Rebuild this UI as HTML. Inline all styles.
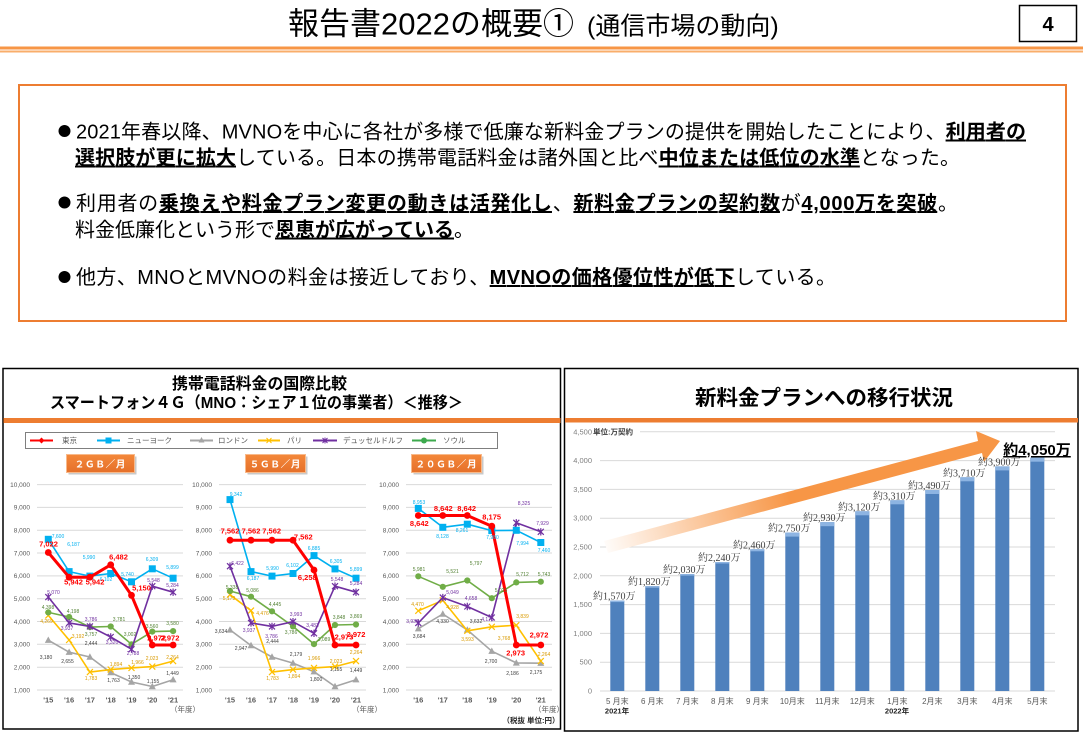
<!DOCTYPE html>
<html><head><meta charset="utf-8">
<style>
html,body{margin:0;padding:0;background:#fff;}
svg{display:block;}
text{font-family:"Liberation Sans","Noto Sans CJK JP",sans-serif;}
.bu{font-weight:bold;text-decoration:underline;}
.yl{font-size:6.5px;fill:#595959;text-anchor:end;}
.xl{font-size:7.5px;fill:#595959;text-anchor:middle;font-weight:bold;}
.sl{font-size:5px;text-anchor:middle;}
.tk{font-size:7.5px;font-weight:bold;fill:#FF0000;text-anchor:middle;}
.lg{font-size:7.5px;fill:#595959;}
.bt{font-size:9.5px;fill:#fff;font-weight:bold;text-anchor:middle;letter-spacing:0.8px;}
.ry{font-size:7.5px;fill:#7F7F7F;text-anchor:end;}
.bl{font-family:"Liberation Serif","Noto Serif CJK SC",serif;font-size:10px;fill:#404040;text-anchor:middle;}
.rx{font-size:8px;fill:#595959;text-anchor:middle;}
</style></head>
<body>
<svg width="1083" height="750" viewBox="0 0 1083 750" xmlns="http://www.w3.org/2000/svg">
<defs>
<marker id="mR" markerWidth="8" markerHeight="8" refX="4" refY="4" markerUnits="userSpaceOnUse"><circle cx="4" cy="4" r="3.4" fill="#FF0000"/></marker>
<marker id="mB" markerWidth="8" markerHeight="8" refX="4" refY="4" markerUnits="userSpaceOnUse"><rect x="0.5" y="0.5" width="7" height="7" fill="#00B0F0"/></marker>
<marker id="mG" markerWidth="8" markerHeight="8" refX="4" refY="4.5" markerUnits="userSpaceOnUse"><path d="M4 0.8L7.5 7.2L0.5 7.2Z" fill="#A5A5A5"/></marker>
<marker id="mY" markerWidth="8" markerHeight="8" refX="4" refY="4" markerUnits="userSpaceOnUse"><path d="M1 1L7 7M7 1L1 7" stroke="#FFC000" stroke-width="1.2"/></marker>
<marker id="mP" markerWidth="8" markerHeight="8" refX="4" refY="4" markerUnits="userSpaceOnUse"><path d="M1 1L7 7M7 1L1 7M4 0.3V7.7" stroke="#7030A0" stroke-width="1.2"/></marker>
<marker id="mS" markerWidth="8" markerHeight="8" refX="4" refY="4" markerUnits="userSpaceOnUse"><circle cx="4" cy="4" r="3.1" fill="#70AD47"/></marker>
<linearGradient id="ag" gradientUnits="userSpaceOnUse" x1="600" y1="550" x2="790" y2="500">
<stop offset="0" stop-color="#FFFFFF"/><stop offset="1" stop-color="#F79646"/></linearGradient>
<linearGradient id="btn" x1="0" y1="0" x2="0" y2="1"><stop offset="0" stop-color="#F4883A"/><stop offset="1" stop-color="#E5702A"/></linearGradient>
</defs>

<!-- Header -->
<text x="288" y="34.5" font-size="31" fill="#000">報告書2022の概要①</text>
<text x="587" y="34.5" font-size="25" fill="#000">(通信市場の動向)</text>
<rect x="1019.5" y="5.5" width="57" height="36" fill="#fff" stroke="#000" stroke-width="1.5"/>
<text x="1048" y="31" font-size="20" font-weight="bold" text-anchor="middle">4</text>
<rect x="0" y="46.5" width="1083" height="3" fill="#F79646"/>
<rect x="0" y="50.5" width="1083" height="2" fill="#F9AE6B"/>

<!-- Summary box -->
<rect x="19" y="85" width="1047" height="236" fill="#fff" stroke="#ED7D31" stroke-width="2"/>
<circle cx="64.5" cy="131" r="6" fill="#000"/>
<circle cx="64.5" cy="202.5" r="6" fill="#000"/>
<circle cx="64.5" cy="277" r="6" fill="#000"/>
<g font-size="20" fill="#000">
<text x="76" y="138.5" textLength="950" lengthAdjust="spacing">2021年春以降、MVNOを中心に各社が多様で低廉な新料金プランの提供を開始したことにより、<tspan class="bu">利用者の</tspan></text>
<text x="75" y="164.5" textLength="885" lengthAdjust="spacing"><tspan class="bu">選択肢が更に拡大</tspan>している。日本の携帯電話料金は諸外国と比べ<tspan class="bu">中位または低位の水準</tspan>となった。</text>
<text x="76" y="210" textLength="882" lengthAdjust="spacing">利用者の<tspan class="bu">乗換えや料金プラン変更の動きは活発化し</tspan>、<tspan class="bu">新料金プランの契約数</tspan>が<tspan class="bu">4,000万を突破</tspan>。</text>
<text x="75" y="236.5">料金低廉化という形で<tspan class="bu">恩恵が広がっている</tspan>。</text>
<text x="76" y="284" textLength="760" lengthAdjust="spacing">他方、MNOとMVNOの料金は接近しており、<tspan class="bu">MVNOの価格優位性が低下</tspan>している。</text>
</g>

<!-- Left chart box -->
<rect x="3" y="368.5" width="557.5" height="360.5" fill="#fff" stroke="#000" stroke-width="1.5"/>
<text x="259.5" y="389" font-size="16" font-weight="bold" text-anchor="middle" textLength="175" lengthAdjust="spacingAndGlyphs">携帯電話料金の国際比較</text>
<text x="256.5" y="408" font-size="16" font-weight="bold" text-anchor="middle" textLength="413" lengthAdjust="spacingAndGlyphs">スマートフォン４Ｇ（MNO：シェア１位の事業者）＜推移＞</text>
<rect x="3.5" y="418" width="557" height="5" fill="#ED7D31"/>

<!-- legend -->
<rect x="25.5" y="432.5" width="472" height="16" fill="#fff" stroke="#7F7F7F" stroke-width="1"/>
<line x1="30" y1="440.5" x2="53" y2="440.5" stroke="#FF0000" stroke-width="2"/><path d="M41.5 437.5L44.5 440.5L41.5 443.5L38.5 440.5Z" fill="#FF0000"/>
<text class="lg" x="62" y="443.2">東京</text>
<line x1="97" y1="440.5" x2="120" y2="440.5" stroke="#00B0F0" stroke-width="2"/><rect x="105.5" y="437.5" width="6" height="6" fill="#00B0F0"/>
<text class="lg" x="127" y="443.2">ニューヨーク</text>
<line x1="190" y1="440.5" x2="213" y2="440.5" stroke="#A5A5A5" stroke-width="2"/><path d="M201.5 437L204.5 442.5L198.5 442.5Z" fill="#A5A5A5"/>
<text class="lg" x="218" y="443.2">ロンドン</text>
<line x1="258" y1="440.5" x2="280" y2="440.5" stroke="#FFC000" stroke-width="2"/><path d="M266.5 438L271.5 443M271.5 438L266.5 443" stroke="#FFC000" stroke-width="1"/>
<text class="lg" x="287" y="443.2">パリ</text>
<line x1="313" y1="440.5" x2="337" y2="440.5" stroke="#7030A0" stroke-width="2"/><path d="M322.5 438L327.5 443M327.5 438L322.5 443M325 437.5V443.5" stroke="#7030A0" stroke-width="1"/>
<text class="lg" x="343" y="443.2">デュッセルドルフ</text>
<line x1="412" y1="440.5" x2="436" y2="440.5" stroke="#3DAA4E" stroke-width="2"/><circle cx="424" cy="440.5" r="3" fill="#3DAA4E"/>
<text class="lg" x="443" y="443.2">ソウル</text>

<!-- buttons -->
<rect x="67" y="455" width="68" height="18" fill="#C9C9C9" transform="translate(1.5,1.5)"/>
<rect x="66.5" y="454.5" width="68" height="18" fill="url(#btn)" stroke="#F8B98A" stroke-width="1"/>
<text class="bt" x="100.5" y="467.5">２ＧＢ／月</text>
<rect x="246" y="455" width="60" height="18" fill="#C9C9C9" transform="translate(1.5,1.5)"/>
<rect x="245.5" y="454.5" width="60" height="18" fill="url(#btn)" stroke="#F8B98A" stroke-width="1"/>
<text class="bt" x="275.5" y="467.5">５ＧＢ／月</text>
<rect x="412" y="455" width="70" height="18" fill="#C9C9C9" transform="translate(1.5,1.5)"/>
<rect x="411.5" y="454.5" width="70" height="18" fill="url(#btn)" stroke="#F8B98A" stroke-width="1"/>
<text class="bt" x="446.5" y="467.5">２０ＧＢ／月</text>

<!-- gridlines panels -->
<g stroke="#D9D9D9" stroke-width="1">
<line x1="37" x2="183" y1="690" y2="690"/><line x1="37" x2="183" y1="667.2" y2="667.2"/><line x1="37" x2="183" y1="644.3" y2="644.3"/><line x1="37" x2="183" y1="621.5" y2="621.5"/><line x1="37" x2="183" y1="598.7" y2="598.7"/><line x1="37" x2="183" y1="575.9" y2="575.9"/><line x1="37" x2="183" y1="553" y2="553"/><line x1="37" x2="183" y1="530.2" y2="530.2"/><line x1="37" x2="183" y1="507.4" y2="507.4"/><line x1="37" x2="183" y1="484.6" y2="484.6"/>
<line x1="219" x2="366" y1="690" y2="690"/><line x1="219" x2="366" y1="667.2" y2="667.2"/><line x1="219" x2="366" y1="644.3" y2="644.3"/><line x1="219" x2="366" y1="621.5" y2="621.5"/><line x1="219" x2="366" y1="598.7" y2="598.7"/><line x1="219" x2="366" y1="575.9" y2="575.9"/><line x1="219" x2="366" y1="553" y2="553"/><line x1="219" x2="366" y1="530.2" y2="530.2"/><line x1="219" x2="366" y1="507.4" y2="507.4"/><line x1="219" x2="366" y1="484.6" y2="484.6"/>
<line x1="406" x2="552" y1="690" y2="690"/><line x1="406" x2="552" y1="667.2" y2="667.2"/><line x1="406" x2="552" y1="644.3" y2="644.3"/><line x1="406" x2="552" y1="621.5" y2="621.5"/><line x1="406" x2="552" y1="598.7" y2="598.7"/><line x1="406" x2="552" y1="575.9" y2="575.9"/><line x1="406" x2="552" y1="553" y2="553"/><line x1="406" x2="552" y1="530.2" y2="530.2"/><line x1="406" x2="552" y1="507.4" y2="507.4"/><line x1="406" x2="552" y1="484.6" y2="484.6"/>
</g>
<!-- y labels -->
<g class="yl">
<text class="yl" x="30" y="692.3">1,000</text><text class="yl" x="30" y="669.5">2,000</text><text class="yl" x="30" y="646.6">3,000</text><text class="yl" x="30" y="623.8">4,000</text><text class="yl" x="30" y="601">5,000</text><text class="yl" x="30" y="578.2">6,000</text><text class="yl" x="30" y="555.3">7,000</text><text class="yl" x="30" y="532.5">8,000</text><text class="yl" x="30" y="509.7">9,000</text><text class="yl" x="30" y="486.9">10,000</text>
<text class="yl" x="212" y="692.3">1,000</text><text class="yl" x="212" y="669.5">2,000</text><text class="yl" x="212" y="646.6">3,000</text><text class="yl" x="212" y="623.8">4,000</text><text class="yl" x="212" y="601">5,000</text><text class="yl" x="212" y="578.2">6,000</text><text class="yl" x="212" y="555.3">7,000</text><text class="yl" x="212" y="532.5">8,000</text><text class="yl" x="212" y="509.7">9,000</text><text class="yl" x="212" y="486.9">10,000</text>
<text class="yl" x="399" y="692.3">1,000</text><text class="yl" x="399" y="669.5">2,000</text><text class="yl" x="399" y="646.6">3,000</text><text class="yl" x="399" y="623.8">4,000</text><text class="yl" x="399" y="601">5,000</text><text class="yl" x="399" y="578.2">6,000</text><text class="yl" x="399" y="555.3">7,000</text><text class="yl" x="399" y="532.5">8,000</text><text class="yl" x="399" y="509.7">9,000</text><text class="yl" x="399" y="486.9">10,000</text>
</g>
<!-- x labels -->
<text class="xl" x="48.3" y="702.5">'15</text><text class="xl" x="69.1" y="702.5">'16</text><text class="xl" x="89.9" y="702.5">'17</text><text class="xl" x="110.7" y="702.5">'18</text><text class="xl" x="131.5" y="702.5">'19</text><text class="xl" x="152.3" y="702.5">'20</text><text class="xl" x="173.1" y="702.5">'21</text>
<text class="xl" x="230" y="702.5">'15</text><text class="xl" x="251" y="702.5">'16</text><text class="xl" x="272" y="702.5">'17</text><text class="xl" x="293" y="702.5">'18</text><text class="xl" x="314" y="702.5">'19</text><text class="xl" x="335" y="702.5">'20</text><text class="xl" x="356" y="702.5">'21</text>
<text class="xl" x="418.3" y="702.5">'16</text><text class="xl" x="442.8" y="702.5">'17</text><text class="xl" x="467.3" y="702.5">'18</text><text class="xl" x="491.8" y="702.5">'19</text><text class="xl" x="516.3" y="702.5">'20</text><text class="xl" x="540.8" y="702.5">'21</text>
<text x="185" y="712" font-size="7.5" fill="#595959" text-anchor="middle">（年度）</text>
<text x="367" y="712" font-size="7.5" fill="#595959" text-anchor="middle">（年度）</text>
<text x="549" y="712" font-size="7.5" fill="#595959" text-anchor="middle">（年度）</text>
<text x="531" y="723" font-size="7.5" fill="#262626" text-anchor="middle" font-weight="bold">（税抜 単位:円）</text>

<!-- series panel 1 -->
<g fill="none" stroke-linejoin="round">
<polyline points="48.3,640.2 69.1,652.2 89.9,657 110.7,672.6 131.5,682 152.3,686.5 173.1,679.7" stroke="#A5A5A5" stroke-width="1.6" marker-start="url(#mG)" marker-mid="url(#mG)" marker-end="url(#mG)"/>
<polyline points="48.3,615.4 69.1,640 89.9,672.1 110.7,669.6 131.5,667.9 152.3,666.6 173.1,661.1" stroke="#FFC000" stroke-width="1.6" marker-start="url(#mY)" marker-mid="url(#mY)" marker-end="url(#mY)"/>
<polyline points="48.3,612.4 69.1,617 89.9,627.1 110.7,626.5 131.5,644.3 152.3,631.6 173.1,631.1" stroke="#70AD47" stroke-width="1.6" marker-start="url(#mS)" marker-mid="url(#mS)" marker-end="url(#mS)"/>
<polyline points="48.3,597.1 69.1,622.9 89.9,626.4 110.7,637 131.5,649.2 152.3,586.2 173.1,592.2" stroke="#7030A0" stroke-width="1.6" marker-start="url(#mP)" marker-mid="url(#mP)" marker-end="url(#mP)"/>
<polyline points="48.3,539.3 69.1,571.6 89.9,576.1 110.7,573.5 131.5,581.8 152.3,568.8 173.1,578.2" stroke="#00B0F0" stroke-width="1.6" marker-start="url(#mB)" marker-mid="url(#mB)" marker-end="url(#mB)"/>
<polyline points="48.3,552.5 69.1,577.2 89.9,577.2 110.7,564.8 131.5,595.3 152.3,645 173.1,645" stroke="#FF0000" stroke-width="3" marker-start="url(#mR)" marker-mid="url(#mR)" marker-end="url(#mR)"/>
</g>
<!-- series panel 2 -->
<g fill="none" stroke-linejoin="round">
<polyline points="230,629.9 251,645.5 272,657 293,663.1 314,671.7 335,686.5 356,679.7" stroke="#A5A5A5" stroke-width="1.6" marker-start="url(#mG)" marker-mid="url(#mG)" marker-end="url(#mG)"/>
<polyline points="230,594.7 251,610.6 272,672.1 293,669.6 314,667.9 335,666.6 356,661.1" stroke="#FFC000" stroke-width="1.6" marker-start="url(#mY)" marker-mid="url(#mY)" marker-end="url(#mY)"/>
<polyline points="230,591 251,596.7 272,611.3 293,626.4 314,644.1 335,625 356,624.5" stroke="#70AD47" stroke-width="1.6" marker-start="url(#mS)" marker-mid="url(#mS)" marker-end="url(#mS)"/>
<polyline points="230,566.2 251,622.9 272,626.4 293,621.7 314,633.3 335,586.2 356,592.2" stroke="#7030A0" stroke-width="1.6" marker-start="url(#mP)" marker-mid="url(#mP)" marker-end="url(#mP)"/>
<polyline points="230,499.6 251,571.6 272,576.1 293,573.5 314,555.6 335,568.9 356,578.2" stroke="#00B0F0" stroke-width="1.6" marker-start="url(#mB)" marker-mid="url(#mB)" marker-end="url(#mB)"/>
<polyline points="230,540.2 251,540.2 272,540.2 293,540.2 314,570 335,645 356,645" stroke="#FF0000" stroke-width="3" marker-start="url(#mR)" marker-mid="url(#mR)" marker-end="url(#mR)"/>
</g>
<!-- series panel 3 -->
<g fill="none" stroke-linejoin="round">
<polyline points="418.3,628.7 442.8,614 467.3,629.9 491.8,651.2 516.3,662.9 540.8,663.2" stroke="#A5A5A5" stroke-width="1.6" marker-start="url(#mG)" marker-mid="url(#mG)" marker-end="url(#mG)"/>
<polyline points="418.3,610.8 442.8,600.3 467.3,630.8 491.8,626.8 516.3,625.2 540.8,661.1" stroke="#FFC000" stroke-width="1.6" marker-start="url(#mY)" marker-mid="url(#mY)" marker-end="url(#mY)"/>
<polyline points="418.3,576.3 442.8,586.8 467.3,580.5 491.8,598.2 516.3,582.4 540.8,581.7" stroke="#70AD47" stroke-width="1.6" marker-start="url(#mS)" marker-mid="url(#mS)" marker-end="url(#mS)"/>
<polyline points="418.3,622.9 442.8,597.6 467.3,606.5 491.8,617.5 516.3,522.8 540.8,531.8" stroke="#7030A0" stroke-width="1.6" marker-start="url(#mP)" marker-mid="url(#mP)" marker-end="url(#mP)"/>
<polyline points="418.3,508.4 442.8,527.3 467.3,524.2 491.8,530.6 516.3,530.3 540.8,542.5" stroke="#00B0F0" stroke-width="1.6" marker-start="url(#mB)" marker-mid="url(#mB)" marker-end="url(#mB)"/>
<polyline points="418.3,515.5 442.8,515.5 467.3,515.5 491.8,526.2 516.3,645 540.8,645" stroke="#FF0000" stroke-width="3" marker-start="url(#mR)" marker-mid="url(#mR)" marker-end="url(#mR)"/>
</g>

<!-- small data labels -->
<g class="sl" fill="#00B0F0">
<text class="sl" x="58" y="538">7,600</text><text class="sl" x="73.5" y="546">6,187</text><text class="sl" x="89" y="559">5,990</text><text class="sl" x="106" y="581">6,102</text><text class="sl" x="127.5" y="576">5,740</text><text class="sl" x="152" y="561">6,309</text><text class="sl" x="172.5" y="569">5,899</text>
<text class="sl" x="236" y="496">9,342</text><text class="sl" x="253" y="580">6,187</text><text class="sl" x="272.5" y="570">5,990</text><text class="sl" x="292.5" y="567">6,102</text><text class="sl" x="314" y="550">6,885</text><text class="sl" x="336" y="563">6,305</text><text class="sl" x="356" y="571">5,899</text>
<text class="sl" x="419" y="504">8,953</text><text class="sl" x="442.5" y="538">8,128</text><text class="sl" x="462" y="532">8,261</text><text class="sl" x="492.5" y="539">7,980</text><text class="sl" x="522.5" y="545">7,994</text><text class="sl" x="544" y="552">7,460</text>
</g>
<g class="sl" fill="#7030A0">
<text class="sl" x="53.5" y="594">5,070</text><text class="sl" x="67" y="630">3,937</text><text class="sl" x="91" y="621">3,786</text><text class="sl" x="112" y="644">3,320</text><text class="sl" x="133" y="655">2,788</text><text class="sl" x="153.5" y="582">5,548</text><text class="sl" x="172.5" y="587">5,284</text>
<text class="sl" x="237.5" y="565">6,422</text><text class="sl" x="249" y="632">3,937</text><text class="sl" x="271.5" y="638">3,786</text><text class="sl" x="296" y="616">3,993</text><text class="sl" x="312.5" y="627">3,483</text><text class="sl" x="337" y="581">5,548</text><text class="sl" x="356" y="585">5,284</text>
<text class="sl" x="412.5" y="623">3,938</text><text class="sl" x="452.5" y="594">5,049</text><text class="sl" x="471" y="600">4,658</text><text class="sl" x="487.5" y="621">4,175</text><text class="sl" x="524" y="505">8,325</text><text class="sl" x="542.5" y="525">7,929</text>
</g>
<g class="sl" fill="#548235">
<text class="sl" x="48" y="609">4,398</text><text class="sl" x="73" y="613">4,198</text><text class="sl" x="91" y="636">3,757</text><text class="sl" x="119" y="621">3,781</text><text class="sl" x="130" y="636">3,002</text><text class="sl" x="152" y="628">3,560</text><text class="sl" x="172.5" y="625">3,580</text>
<text class="sl" x="232" y="589">5,338</text><text class="sl" x="252.5" y="592">5,086</text><text class="sl" x="275" y="606">4,445</text><text class="sl" x="291" y="634">3,786</text><text class="sl" x="324" y="641">3,089</text><text class="sl" x="339" y="619">3,848</text><text class="sl" x="356" y="618">3,869</text>
<text class="sl" x="419" y="571">5,981</text><text class="sl" x="452.5" y="573">5,521</text><text class="sl" x="476" y="565">5,797</text><text class="sl" x="501" y="592">5,023</text><text class="sl" x="522.5" y="576">5,712</text><text class="sl" x="544" y="576">5,743</text>
</g>
<g class="sl" fill="#D99A00">
<text class="sl" x="46.5" y="623">4,269</text><text class="sl" x="78" y="638">3,192</text><text class="sl" x="91" y="680">1,783</text><text class="sl" x="116" y="666">1,894</text><text class="sl" x="137.5" y="664">1,966</text><text class="sl" x="152" y="660">2,023</text><text class="sl" x="172.5" y="659">2,264</text>
<text class="sl" x="229" y="600">5,173</text><text class="sl" x="262.5" y="615">4,476</text><text class="sl" x="272.5" y="680">1,783</text><text class="sl" x="294" y="678">1,894</text><text class="sl" x="314" y="660">1,966</text><text class="sl" x="336" y="663">2,023</text><text class="sl" x="356" y="654">2,264</text>
<text class="sl" x="417.5" y="606">4,470</text><text class="sl" x="452.5" y="609">4,928</text><text class="sl" x="467.5" y="641">3,593</text><text class="sl" x="504" y="640">3,768</text><text class="sl" x="522.5" y="618">3,839</text><text class="sl" x="544" y="656">2,264</text>
</g>
<g class="sl" fill="#404040">
<text class="sl" x="46" y="659">3,180</text><text class="sl" x="67.5" y="663">2,655</text><text class="sl" x="91" y="645">2,444</text><text class="sl" x="113.5" y="682">1,763</text><text class="sl" x="134" y="679">1,350</text><text class="sl" x="153" y="683">1,155</text><text class="sl" x="172.5" y="675">1,449</text>
<text class="sl" x="221" y="633">3,634</text><text class="sl" x="241" y="650">2,947</text><text class="sl" x="272.5" y="643">2,444</text><text class="sl" x="296" y="656">2,179</text><text class="sl" x="316" y="681">1,800</text><text class="sl" x="336" y="671">1,155</text><text class="sl" x="356" y="672">1,449</text>
<text class="sl" x="419" y="638">3,684</text><text class="sl" x="442.5" y="623">4,330</text><text class="sl" x="476" y="623">3,632</text><text class="sl" x="491" y="663">2,700</text><text class="sl" x="512.5" y="675">2,186</text><text class="sl" x="536" y="674">2,175</text>
</g>
<!-- Tokyo labels -->
<text class="tk" x="48.5" y="546.7">7,022</text><text class="tk" x="73.5" y="584.7">5,942</text><text class="tk" x="95" y="584.7">5,942</text><text class="tk" x="118.5" y="559.7">6,482</text><text class="tk" x="141.5" y="590.7">5,150</text><text class="tk" x="156.7" y="640.7">2,972</text><text class="tk" x="170" y="640.7">2,972</text>
<text class="tk" x="230" y="533.4">7,562</text><text class="tk" x="251" y="533.4">7,562</text><text class="tk" x="271.7" y="533.4">7,562</text><text class="tk" x="303.3" y="539.4">7,562</text><text class="tk" x="307.3" y="580">6,258</text><text class="tk" x="344" y="639.4">2,973</text><text class="tk" x="356" y="637">2,972</text>
<text class="tk" x="419.3" y="526">8,642</text><text class="tk" x="443.3" y="511">8,642</text><text class="tk" x="466.7" y="511">8,642</text><text class="tk" x="491.7" y="519.4">8,175</text><text class="tk" x="515.7" y="655.4">2,973</text><text class="tk" x="539" y="637.7">2,972</text>

<!-- Right chart box -->
<rect x="564.5" y="368.5" width="513.5" height="362.5" fill="none" stroke="#000" stroke-width="1.5"/>
<text x="824" y="405" font-size="21" font-weight="bold" text-anchor="middle" textLength="258" lengthAdjust="spacingAndGlyphs">新料金プランへの移行状況</text>
<rect x="565" y="418" width="513" height="4.5" fill="#ED7D31"/>
<g stroke="#D9D9D9" stroke-width="1">
<line x1="600" x2="1055" y1="691" y2="691"/><line x1="600" x2="1055" y1="662.2" y2="662.2"/><line x1="600" x2="1055" y1="633.4" y2="633.4"/><line x1="600" x2="1055" y1="604.6" y2="604.6"/><line x1="600" x2="1055" y1="575.8" y2="575.8"/><line x1="600" x2="1055" y1="547" y2="547"/><line x1="600" x2="1055" y1="518.2" y2="518.2"/><line x1="600" x2="1055" y1="489.4" y2="489.4"/><line x1="600" x2="1055" y1="460.6" y2="460.6"/><line x1="640" x2="1055" y1="431.8" y2="431.8"/>
</g>
<text class="ry" x="592" y="693.5">0</text><text class="ry" x="592" y="664.7">500</text><text class="ry" x="592" y="635.9">1,000</text><text class="ry" x="592" y="607.1">1,500</text><text class="ry" x="592" y="578.3">2,000</text><text class="ry" x="592" y="549.5">2,500</text><text class="ry" x="592" y="520.7">3,000</text><text class="ry" x="592" y="491.9">3,500</text><text class="ry" x="592" y="463.1">4,000</text><text class="ry" x="592" y="434.3">4,500</text>
<text x="593" y="434.3" font-size="7.5" font-weight="bold" fill="#404040">単位:万契約</text>

<!-- arrow -->
<polygon points="604,541 978,441 976,431 1000,441 984,462 982,453 608,553" fill="url(#ag)"/>

<!-- bars -->
<g fill="#4F81BD">
<rect x="610.3" y="600.6" width="14" height="90.4"/>
<rect x="645.3" y="586.2" width="14" height="104.8"/>
<rect x="680.3" y="574.1" width="14" height="116.9"/>
<rect x="715.3" y="562" width="14" height="129"/>
<rect x="750.3" y="549.3" width="14" height="141.7"/>
<rect x="785.3" y="532.6" width="14" height="158.4"/>
<rect x="820.3" y="522.2" width="14" height="168.8"/>
<rect x="855.3" y="511.3" width="14" height="179.7"/>
<rect x="890.3" y="500.3" width="14" height="190.7"/>
<rect x="925.3" y="490" width="14" height="201"/>
<rect x="960.3" y="477.3" width="14" height="213.7"/>
<rect x="995.3" y="466.4" width="14" height="224.6"/>
<rect x="1030.3" y="457.7" width="14" height="233.3"/>
</g>
<g fill="#8DB4E2">
<rect x="610.3" y="600.6" width="14" height="1.5"/>
<rect x="645.3" y="586.2" width="14" height="1.5"/>
<rect x="680.3" y="574.1" width="14" height="1.5"/>
<rect x="715.3" y="562" width="14" height="1.5"/>
<rect x="750.3" y="549.3" width="14" height="2"/>
<rect x="785.3" y="532.6" width="14" height="4"/>
<rect x="820.3" y="522.2" width="14" height="4"/>
<rect x="855.3" y="511.3" width="14" height="4"/>
<rect x="890.3" y="500.3" width="14" height="4"/>
<rect x="925.3" y="490" width="14" height="4"/>
<rect x="960.3" y="477.3" width="14" height="4"/>
<rect x="995.3" y="466.4" width="14" height="4"/>
<rect x="1030.3" y="457.7" width="14" height="4"/>
</g>
<!-- bar labels -->
<text class="bl" x="614.3" y="599.6">約1,570万</text>
<text class="bl" x="649.3" y="585.2">約1,820万</text>
<text class="bl" x="684.3" y="573.1">約2,030万</text>
<text class="bl" x="719.3" y="561">約2,240万</text>
<text class="bl" x="754.3" y="548.3">約2,460万</text>
<text class="bl" x="789.3" y="531.6">約2,750万</text>
<text class="bl" x="824.3" y="521.2">約2,930万</text>
<text class="bl" x="859.3" y="510.3">約3,120万</text>
<text class="bl" x="894.3" y="499.3">約3,310万</text>
<text class="bl" x="929.3" y="489">約3,490万</text>
<text class="bl" x="964.3" y="476.3">約3,710万</text>
<text class="bl" x="999.3" y="465.4">約3,900万</text>
<text x="1037" y="455" font-size="15" font-weight="bold" text-anchor="middle" style="text-decoration:underline" fill="#000">約4,050万</text>

<!-- x labels right -->
<text class="rx" x="617.3" y="704">5 月末</text><text class="rx" x="652.3" y="704">6 月末</text><text class="rx" x="687.3" y="704">7 月末</text><text class="rx" x="722.3" y="704">8 月末</text><text class="rx" x="757.3" y="704">9 月末</text><text class="rx" x="792.3" y="704">10月末</text><text class="rx" x="827.3" y="704">11月末</text><text class="rx" x="862.3" y="704">12月末</text><text class="rx" x="897.3" y="704">1月末</text><text class="rx" x="932.3" y="704">2月末</text><text class="rx" x="967.3" y="704">3月末</text><text class="rx" x="1002.3" y="704">4月末</text><text class="rx" x="1037.3" y="704">5月末</text>
<text x="617" y="713.5" font-size="7.5" font-weight="bold" fill="#262626" text-anchor="middle">2021年</text>
<text x="897" y="713.5" font-size="7.5" font-weight="bold" fill="#262626" text-anchor="middle">2022年</text>
</svg>
</body></html>
